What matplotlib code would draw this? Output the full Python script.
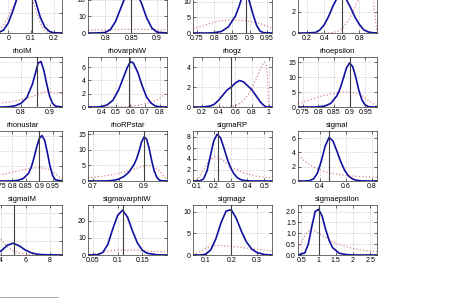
import matplotlib
matplotlib.use("Agg")
import matplotlib.pyplot as plt
from matplotlib.lines import Line2D

plt.rcParams['font.family'] = ['Liberation Sans', 'DejaVu Sans']

# posterior (blue), prior (red dotted) and mode (vertical line)
# row 1 - titles are cut off by the crop
a_x = [-0.11, -0.07, -0.04, -0.02, 0.0, 0.02, 0.04, 0.06, 0.08, 0.1, 0.12, 0.14, 0.16, 0.18, 0.2, 0.235]
a_post = [0, 0, 0.3, 1.5, 5, 11, 18, 22, 23, 21, 16, 8, 3, 0.8, 0.1, 0]
a_prior = [0, 0.5, 1.5, 4, 8, 13, 17, 21, 22, 19, 12, 5, 1, 0.2, 0, 0]
a_mode = 0.104

b_x = [0.767, 0.78, 0.8, 0.81, 0.82, 0.83, 0.84, 0.85, 0.86, 0.87, 0.88, 0.89, 0.9, 0.919]
b_post = [0, 0, 0.3, 2, 7, 15, 23, 27, 25, 18, 9, 3, 0.5, 0]
b_prior = [1.8, 1.9, 2, 2.1, 2.1, 2.2, 2.2, 2.2, 2.2, 2.2, 2.1, 2.1, 2.0, 1.9]
b_mode = 0.85

c_x = [0.739, 0.76, 0.78, 0.8, 0.82, 0.84, 0.86, 0.87, 0.88, 0.89, 0.9, 0.91, 0.92, 0.93, 0.94, 0.964]
c_post = [0, 0, 0, 0.1, 0.5, 2, 5.5, 8.5, 12, 13.5, 10, 6, 2.5, 0.6, 0.1, 0]
c_prior = [1.4, 2.0, 2.8, 3.5, 4.0, 4.2, 4.2, 4.1, 4.0, 3.9, 3.7, 3.5, 3.3, 3.0, 2.6, 1.5]
c_mode = 0.891

d_x = [0.1, 0.2, 0.3, 0.35, 0.4, 0.45, 0.5, 0.55, 0.6, 0.65, 0.7, 0.75, 0.8, 0.85, 0.9, 0.95, 1.0]
d_post = [0, 0, 0.05, 0.3, 0.8, 1.6, 2.6, 3.4, 3.6, 3.2, 2.4, 1.5, 0.8, 0.3, 0.1, 0.02, 0]
d_prior = [0, 0, 0, 0, 0, 0.01, 0.05, 0.15, 0.4, 0.9, 1.6, 2.5, 3.4, 4.1, 4.3, 3.5, 0]
d_mode = 0.6

# row 2
rhoIM_x = [0.668, 0.7, 0.74, 0.76, 0.78, 0.8, 0.82, 0.84, 0.85, 0.86, 0.87, 0.88, 0.89, 0.9, 0.91, 0.92, 0.943]
rhoIM_post = [0, 0, 0, 0.1, 0.4, 1.2, 3, 7.5, 11, 14.5, 15, 12, 7.5, 3.5, 1.2, 0.3, 0]
rhoIM_prior = [0.8, 1.0, 1.4, 1.7, 2.0, 2.4, 2.9, 3.5, 3.8, 4.2, 4.5, 4.8, 5.0, 5.0, 4.8, 4.6, 4.4]
rhoIM_mode = 0.857

rhovarphiW_x = [0.31, 0.36, 0.4, 0.44, 0.48, 0.52, 0.55, 0.58, 0.6, 0.62, 0.65, 0.68, 0.71, 0.74, 0.77, 0.8, 0.85]
rhovarphiW_post = [0, 0, 0.05, 0.3, 1.0, 2.6, 4.3, 6.0, 6.8, 6.6, 5.2, 3.2, 1.5, 0.6, 0.15, 0.03, 0]
rhovarphiW_prior = [0, 0, 0, 0, 0.01, 0.02, 0.04, 0.08, 0.12, 0.17, 0.27, 0.4, 0.55, 0.7, 0.95, 1.3, 2.1]
rhovarphiW_mode = 0.59

rhogz_x = [0.09, 0.2, 0.3, 0.35, 0.4, 0.45, 0.5, 0.55, 0.6, 0.65, 0.7, 0.75, 0.8, 0.85, 0.9, 0.93, 0.95, 0.97, 0.99, 1.0, 1.04]
rhogz_post = [0, 0, 0.1, 0.3, 0.7, 1.2, 1.7, 2.0, 2.4, 2.65, 2.5, 2.1, 1.7, 1.1, 0.5, 0.25, 0.1, 0.03, 0, 0, 0]
rhogz_prior = [0, 0, 0, 0, 0, 0, 0.01, 0.05, 0.15, 0.35, 0.7, 1.2, 1.9, 2.8, 3.8, 4.3, 4.5, 4.2, 2.5, 0, 0]
rhogz_mode = 0.55

rhoepsilon_x = [0.735, 0.76, 0.78, 0.8, 0.82, 0.84, 0.86, 0.87, 0.88, 0.89, 0.9, 0.91, 0.92, 0.93, 0.94, 0.95, 0.96, 0.97, 0.988]
rhoepsilon_post = [0, 0, 0, 0.05, 0.3, 1.2, 3.8, 6.2, 9.5, 13, 14.7, 13.5, 10, 5.5, 2.3, 0.7, 0.15, 0.02, 0]
rhoepsilon_prior = [1.2, 1.9, 2.6, 3.3, 3.9, 4.3, 4.7, 4.85, 4.95, 5.0, 5.0, 4.9, 4.7, 4.3, 3.8, 3.1, 2.3, 1.4, 0.3]
rhoepsilon_mode = 0.9

# row 3
rhonustar_x = [0.69, 0.74, 0.78, 0.8, 0.82, 0.84, 0.86, 0.87, 0.88, 0.89, 0.9, 0.91, 0.92, 0.93, 0.94, 0.95, 0.96, 0.985]
rhonustar_post = [0, 0, 0, 0.05, 0.2, 0.8, 2.5, 4.5, 7.5, 11, 14, 15, 13.5, 9.5, 5, 1.8, 0.4, 0]
rhonustar_prior = [1.0, 1.8, 2.5, 2.9, 3.3, 3.7, 4.0, 4.2, 4.3, 4.35, 4.35, 4.3, 4.2, 4.0, 3.6, 3.1, 2.4, 0.6]
rhonustar_mode = 0.9

rhoRPstar_x = [0.68, 0.72, 0.76, 0.78, 0.8, 0.82, 0.84, 0.86, 0.87, 0.88, 0.89, 0.9, 0.91, 0.92, 0.93, 0.94, 0.95, 0.96, 0.97, 0.99]
rhoRPstar_post = [0, 0, 0.05, 0.2, 0.6, 1.4, 2.8, 5.2, 7, 9.5, 12.5, 14.2, 13.5, 10.5, 6.5, 3.2, 1.2, 0.3, 0.05, 0]
rhoRPstar_prior = [1.0, 1.4, 1.8, 2.1, 2.5, 2.9, 3.4, 3.9, 4.1, 4.4, 4.6, 4.8, 4.9, 4.9, 4.8, 4.5, 4.0, 3.3, 2.4, 0.3]
rhoRPstar_mode = 0.9

sigmaRP_x = [0.077, 0.1, 0.12, 0.14, 0.16, 0.18, 0.2, 0.22, 0.24, 0.26, 0.28, 0.3, 0.32, 0.34, 0.36, 0.38, 0.4, 0.45, 0.5, 0.546]
sigmaRP_post = [0, 0, 0.05, 0.4, 1.8, 4.5, 7.2, 8.4, 7.8, 6.0, 4.0, 2.4, 1.3, 0.6, 0.25, 0.1, 0.03, 0, 0, 0]
sigmaRP_prior = [0, 0.2, 0.9, 2.0, 3.1, 3.9, 4.3, 4.3, 4.0, 3.6, 3.1, 2.7, 2.3, 2.0, 1.7, 1.45, 1.25, 0.9, 0.65, 0.5]
sigmaRP_mode = 0.226

sigmaI_x = [0.23, 0.28, 0.32, 0.35, 0.38, 0.41, 0.44, 0.47, 0.5, 0.53, 0.56, 0.59, 0.62, 0.65, 0.68, 0.72, 0.78, 0.84]
sigmaI_post = [0, 0, 0.05, 0.3, 1.1, 2.8, 4.9, 6.1, 5.6, 4.2, 2.7, 1.5, 0.7, 0.3, 0.1, 0.02, 0, 0]
sigmaI_prior = [3.6, 2.8, 2.3, 2.0, 1.7, 1.5, 1.3, 1.15, 1.05, 0.95, 0.88, 0.8, 0.75, 0.7, 0.66, 0.62, 0.57, 0.53]
sigmaI_mode = 0.47

# row 4
sigmaIM_x = [2.5, 3, 3.5, 4, 4.5, 5, 5.5, 6, 6.5, 7, 7.5, 8, 9]
sigmaIM_post = [0, 0, 0.05, 0.3, 0.7, 0.85, 0.65, 0.35, 0.15, 0.05, 0.02, 0.01, 0]
sigmaIM_prior = [3.3, 2.6, 1.8, 1.1, 0.6, 0.3, 0.15, 0.07, 0.03, 0.01, 0, 0, 0]
sigmaIM_mode = 5.05

sigmavarphiW_x = [0.04, 0.06, 0.07, 0.08, 0.09, 0.1, 0.11, 0.12, 0.13, 0.14, 0.15, 0.16, 0.18, 0.2]
sigmavarphiW_post = [0, 0.2, 1.5, 6, 15, 23, 26, 22, 14, 7, 2.8, 1, 0.1, 0]
sigmavarphiW_prior = [0, 0.8, 1.6, 2.2, 2.6, 2.8, 2.9, 2.9, 2.8, 2.7, 2.5, 2.3, 2.0, 1.7]
sigmavarphiW_mode = 0.11

sigmagz_x = [0.05, 0.08, 0.1, 0.12, 0.14, 0.16, 0.18, 0.2, 0.22, 0.24, 0.26, 0.28, 0.3, 0.33, 0.36]
sigmagz_post = [0, 0, 0.2, 1.2, 3.8, 7.5, 10.2, 10.5, 8.5, 5.5, 3, 1.4, 0.6, 0.1, 0]
sigmagz_prior = [0, 0.8, 1.6, 2.0, 2.2, 2.2, 2.1, 2.0, 1.9, 1.75, 1.6, 1.45, 1.3, 1.15, 1.0]
sigmagz_mode = 0.2

sigmaepsilon_x = [0.4, 0.6, 0.7, 0.8, 0.9, 1.0, 1.1, 1.2, 1.3, 1.4, 1.6, 1.8, 2.0, 2.3, 2.7]
sigmaepsilon_post = [0, 0.1, 0.5, 1.3, 2.0, 2.1, 1.8, 1.2, 0.7, 0.35, 0.08, 0.02, 0, 0, 0]
sigmaepsilon_prior = [0.3, 0.9, 1.1, 1.15, 1.1, 1.0, 0.9, 0.8, 0.7, 0.6, 0.48, 0.38, 0.3, 0.22, 0.15]
sigmaepsilon_mode = 1.0

panels = [
    ("", a_x, a_post, a_prior, a_mode, [0, 10, 20], [0, 0.1, 0.2], 25.3),
    ("", b_x, b_post, b_prior, b_mode, [0, 10, 20], [0.8, 0.85, 0.9], 30.3),
    ("", c_x, c_post, c_prior, c_mode, [0, 5, 10, 15], [0.75, 0.8, 0.85, 0.9, 0.95], 16.1),
    ("", d_x, d_post, d_prior, d_mode, [0, 2, 4], [0.2, 0.4, 0.6, 0.8], 4.76),
    ("rhoIM", rhoIM_x, rhoIM_post, rhoIM_prior, rhoIM_mode, [0, 5, 10, 15], [0.7, 0.8, 0.9], 16.5),
    ("rhovarphiW", rhovarphiW_x, rhovarphiW_post, rhovarphiW_prior, rhovarphiW_mode, [0, 2, 4, 6], [0.4, 0.5, 0.6, 0.7, 0.8], 7.5),
    ("rhogz", rhogz_x, rhogz_post, rhogz_prior, rhogz_mode, [0, 2, 4], [0.2, 0.4, 0.6, 0.8, 1], 5.0),
    ("rhoepsilon", rhoepsilon_x, rhoepsilon_post, rhoepsilon_prior, rhoepsilon_mode, [0, 5, 10, 15], [0.75, 0.8, 0.85, 0.9, 0.95], 16.7),
    ("rhonustar", rhonustar_x, rhonustar_post, rhonustar_prior, rhonustar_mode, [0, 5, 10, 15], [0.75, 0.8, 0.85, 0.9, 0.95], 16.5),
    ("rhoRPstar", rhoRPstar_x, rhoRPstar_post, rhoRPstar_prior, rhoRPstar_mode, [0, 5, 10, 15], [0.7, 0.8, 0.9], 16.1),
    ("sigmaRP", sigmaRP_x, sigmaRP_post, sigmaRP_prior, sigmaRP_mode, [0, 2, 4, 6, 8], [0.1, 0.2, 0.3, 0.4, 0.5], 9.0),
    ("sigmaI", sigmaI_x, sigmaI_post, sigmaI_prior, sigmaI_mode, [0, 2, 4, 6], [0.4, 0.6, 0.8], 7.0),
    ("sigmaIM", sigmaIM_x, sigmaIM_post, sigmaIM_prior, sigmaIM_mode, [0, 1, 2, 3], [4, 6, 8], 3.6),
    ("sigmavarphiW", sigmavarphiW_x, sigmavarphiW_post, sigmavarphiW_prior, sigmavarphiW_mode, [0, 10, 20], [0.05, 0.1, 0.15], 29),
    ("sigmagz", sigmagz_x, sigmagz_post, sigmagz_prior, sigmagz_mode, [0, 5, 10], [0.1, 0.2, 0.3], 11.6),
    ("sigmaepsilon", sigmaepsilon_x, sigmaepsilon_post, sigmaepsilon_prior, sigmaepsilon_mode, [0, 0.5, 1, 1.5, 2], [0.5, 1, 1.5, 2, 2.5], 2.3),
]

W, H = 463, 304
fig = plt.figure(figsize=(W / 100, H / 100), dpi=100)

# the page crop cuts off the left column and the top row
col_left = [-17, 88, 193, 298]
row_bottom = [33, 107, 181, 255]
aw, ah = 79, 50

for i, (name, x, post, prior, mode, yt, xt, ytop) in enumerate(panels):
    r, c = divmod(i, 4)
    ax = fig.add_axes([col_left[c] / W, 1 - row_bottom[r] / H, aw / W, ah / H])
    ax.plot(x, prior, ':', color='#d98c8c', lw=0.9)
    ax.plot(x, post, '-', color='#1010a0', lw=1.2)
    ax.axvline(mode, color='#404040', lw=0.8)
    ax.set_xlim(x[0], x[-1])
    ax.set_ylim(0, ytop)
    ax.set_xticks(xt)
    ax.set_yticks(yt)
    ax.set_xticklabels([f"{v:g}" for v in xt])
    ax.grid(True, linestyle=':', color='#b0b0b0', lw=0.5)
    ax.tick_params(direction='in', length=2, width=0.4, top=True, right=True,
                   labelsize=5, pad=1.5)
    for s in ax.spines.values():
        s.set_linewidth(0.5)
        s.set_color('#333333')
    if name:
        ax.set_title(name, fontsize=5.5, pad=3)

# footnote rule from the page
fig.add_artist(Line2D([0, 58 / W], [1 - 297 / H, 1 - 297 / H], color='#888888', lw=0.5))

fig.savefig("out.png", dpi=100)
